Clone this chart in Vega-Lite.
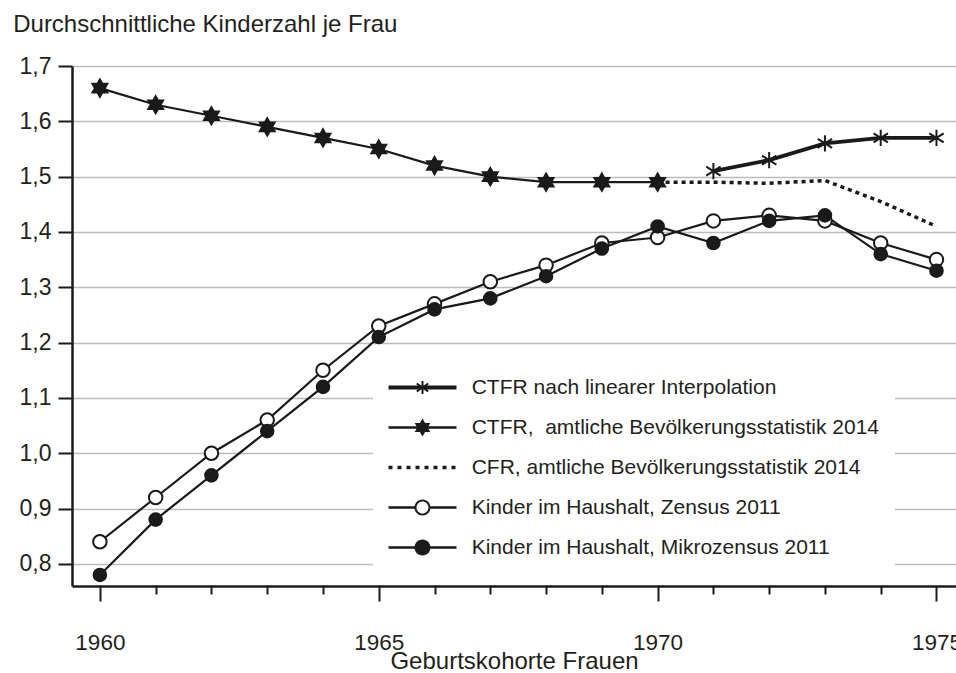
{
  "$schema": "https://vega.github.io/schema/vega-lite/v6.json",
  "width": 884,
  "height": 520,
  "autosize": {"type": "none"},
  "padding": {"left": 72, "top": 66, "right": 0, "bottom": 87},
  "background": "white",
  "config": {"view": {"stroke": null}, "font": "Liberation Sans"},
  "data": {"values": [
    {"series": "CTFR,\u00a0 amtliche Bevölkerungsstatistik 2014", "year": 1960, "value": 1.66},
    {"series": "CTFR,\u00a0 amtliche Bevölkerungsstatistik 2014", "year": 1961, "value": 1.63},
    {"series": "CTFR,\u00a0 amtliche Bevölkerungsstatistik 2014", "year": 1962, "value": 1.61},
    {"series": "CTFR,\u00a0 amtliche Bevölkerungsstatistik 2014", "year": 1963, "value": 1.59},
    {"series": "CTFR,\u00a0 amtliche Bevölkerungsstatistik 2014", "year": 1964, "value": 1.57},
    {"series": "CTFR,\u00a0 amtliche Bevölkerungsstatistik 2014", "year": 1965, "value": 1.55},
    {"series": "CTFR,\u00a0 amtliche Bevölkerungsstatistik 2014", "year": 1966, "value": 1.52},
    {"series": "CTFR,\u00a0 amtliche Bevölkerungsstatistik 2014", "year": 1967, "value": 1.50},
    {"series": "CTFR,\u00a0 amtliche Bevölkerungsstatistik 2014", "year": 1968, "value": 1.49},
    {"series": "CTFR,\u00a0 amtliche Bevölkerungsstatistik 2014", "year": 1969, "value": 1.49},
    {"series": "CTFR,\u00a0 amtliche Bevölkerungsstatistik 2014", "year": 1970, "value": 1.49},
    {"series": "CTFR nach linearer Interpolation", "year": 1971, "value": 1.51},
    {"series": "CTFR nach linearer Interpolation", "year": 1972, "value": 1.53},
    {"series": "CTFR nach linearer Interpolation", "year": 1973, "value": 1.56},
    {"series": "CTFR nach linearer Interpolation", "year": 1974, "value": 1.57},
    {"series": "CTFR nach linearer Interpolation", "year": 1975, "value": 1.57},
    {"series": "CFR, amtliche Bevölkerungsstatistik 2014", "year": 1970, "value": 1.49},
    {"series": "CFR, amtliche Bevölkerungsstatistik 2014", "year": 1971, "value": 1.49},
    {"series": "CFR, amtliche Bevölkerungsstatistik 2014", "year": 1972, "value": 1.488},
    {"series": "CFR, amtliche Bevölkerungsstatistik 2014", "year": 1973, "value": 1.493},
    {"series": "CFR, amtliche Bevölkerungsstatistik 2014", "year": 1974, "value": 1.455},
    {"series": "CFR, amtliche Bevölkerungsstatistik 2014", "year": 1975, "value": 1.41},
    {"series": "Kinder im Haushalt, Zensus 2011", "year": 1960, "value": 0.84},
    {"series": "Kinder im Haushalt, Zensus 2011", "year": 1961, "value": 0.92},
    {"series": "Kinder im Haushalt, Zensus 2011", "year": 1962, "value": 1.00},
    {"series": "Kinder im Haushalt, Zensus 2011", "year": 1963, "value": 1.06},
    {"series": "Kinder im Haushalt, Zensus 2011", "year": 1964, "value": 1.15},
    {"series": "Kinder im Haushalt, Zensus 2011", "year": 1965, "value": 1.23},
    {"series": "Kinder im Haushalt, Zensus 2011", "year": 1966, "value": 1.27},
    {"series": "Kinder im Haushalt, Zensus 2011", "year": 1967, "value": 1.31},
    {"series": "Kinder im Haushalt, Zensus 2011", "year": 1968, "value": 1.34},
    {"series": "Kinder im Haushalt, Zensus 2011", "year": 1969, "value": 1.38},
    {"series": "Kinder im Haushalt, Zensus 2011", "year": 1970, "value": 1.39},
    {"series": "Kinder im Haushalt, Zensus 2011", "year": 1971, "value": 1.42},
    {"series": "Kinder im Haushalt, Zensus 2011", "year": 1972, "value": 1.43},
    {"series": "Kinder im Haushalt, Zensus 2011", "year": 1973, "value": 1.42},
    {"series": "Kinder im Haushalt, Zensus 2011", "year": 1974, "value": 1.38},
    {"series": "Kinder im Haushalt, Zensus 2011", "year": 1975, "value": 1.35},
    {"series": "Kinder im Haushalt, Mikrozensus 2011", "year": 1960, "value": 0.78},
    {"series": "Kinder im Haushalt, Mikrozensus 2011", "year": 1961, "value": 0.88},
    {"series": "Kinder im Haushalt, Mikrozensus 2011", "year": 1962, "value": 0.96},
    {"series": "Kinder im Haushalt, Mikrozensus 2011", "year": 1963, "value": 1.04},
    {"series": "Kinder im Haushalt, Mikrozensus 2011", "year": 1964, "value": 1.12},
    {"series": "Kinder im Haushalt, Mikrozensus 2011", "year": 1965, "value": 1.21},
    {"series": "Kinder im Haushalt, Mikrozensus 2011", "year": 1966, "value": 1.26},
    {"series": "Kinder im Haushalt, Mikrozensus 2011", "year": 1967, "value": 1.28},
    {"series": "Kinder im Haushalt, Mikrozensus 2011", "year": 1968, "value": 1.32},
    {"series": "Kinder im Haushalt, Mikrozensus 2011", "year": 1969, "value": 1.37},
    {"series": "Kinder im Haushalt, Mikrozensus 2011", "year": 1970, "value": 1.41},
    {"series": "Kinder im Haushalt, Mikrozensus 2011", "year": 1971, "value": 1.38},
    {"series": "Kinder im Haushalt, Mikrozensus 2011", "year": 1972, "value": 1.42},
    {"series": "Kinder im Haushalt, Mikrozensus 2011", "year": 1973, "value": 1.43},
    {"series": "Kinder im Haushalt, Mikrozensus 2011", "year": 1974, "value": 1.36},
    {"series": "Kinder im Haushalt, Mikrozensus 2011", "year": 1975, "value": 1.33}
  ]},
  "encoding": {
    "x": {
      "field": "year", "type": "quantitative",
      "scale": {"domain": [1959.5, 1975.35], "nice": false, "zero": false},
      "axis": {
        "values": [1960,1961,1962,1963,1964,1965,1966,1967,1968,1969,1970,1971,1972,1973,1974,1975],
        "title": "Geburtskohorte Frauen",
        "labelExpr": "datum.value % 5 === 0 ? '' + datum.value : ''",
        "grid": false,
        "domainColor": "#1a1a1a", "domainWidth": 2.5,
        "tickColor": "#1a1a1a", "tickWidth": 2,
        "tickSize": {"condition": {"test": "datum.value % 5 === 0", "value": 15}, "value": 8},
        "labelFontSize": 22.5, "labelColor": "#231f20", "labelPadding": 30,
        "labelFlush": false, "labelOverlap": false,
        "titleFontSize": 24, "titleFontWeight": "normal", "titleColor": "#231f20",
        "titleBaseline": "alphabetic", "titleY": 82
      }
    },
    "y": {
      "field": "value", "type": "quantitative",
      "scale": {"domain": [0.76, 1.7], "nice": false, "zero": false},
      "axis": {
        "values": [0.8, 0.9, 1.0, 1.1, 1.2, 1.3, 1.4, 1.5, 1.6, 1.7],
        "labelExpr": "replace(format(datum.value, '.1f'), '.', ',')",
        "title": "Durchschnittliche Kinderzahl je Frau",
        "titleAngle": 0, "titleAlign": "left", "titleBaseline": "alphabetic",
        "titleX": -59.3, "titleY": -34.3,
        "titleFontSize": 24, "titleFontWeight": "normal", "titleColor": "#231f20",
        "grid": true, "gridColor": "#bdbdbd", "gridWidth": 1.6,
        "domainColor": "#1a1a1a", "domainWidth": 2.5,
        "tickColor": "#1a1a1a", "tickWidth": 2, "tickSize": 14,
        "labelPadding": 7, "labelFontSize": 23, "labelColor": "#231f20"
      }
    }
  },
  "layer": [
    {
      "transform": [{"filter": {"field": "series", "oneOf": ["CTFR,\u00a0 amtliche Bevölkerungsstatistik 2014", "Kinder im Haushalt, Zensus 2011", "Kinder im Haushalt, Mikrozensus 2011"]}}],
      "mark": {"type": "line", "color": "#1a1a1a", "strokeWidth": 2.2},
      "encoding": {"detail": {"field": "series", "type": "nominal"}}
    },
    {
      "transform": [{"filter": {"field": "series", "equal": "CTFR nach linearer Interpolation"}}],
      "mark": {"type": "line", "color": "#1a1a1a", "strokeWidth": 3.8},
      "encoding": {}
    },
    {
      "transform": [{"filter": {"field": "series", "equal": "CFR, amtliche Bevölkerungsstatistik 2014"}}],
      "mark": {"type": "line", "color": "#1a1a1a", "strokeWidth": 3.5, "strokeDash": [4, 4], "strokeCap": "butt"},
      "encoding": {}
    },
    {
      "transform": [{"filter": {"field": "series", "oneOf": ["CTFR nach linearer Interpolation", "CTFR,\u00a0 amtliche Bevölkerungsstatistik 2014", "Kinder im Haushalt, Zensus 2011", "Kinder im Haushalt, Mikrozensus 2011"]}}],
      "mark": {"type": "point", "filled": true, "stroke": "#1a1a1a", "strokeWidth": 2, "size": 324, "opacity": 1},
      "encoding": {
        "shape": {
          "field": "series", "type": "nominal", "legend": null,
          "scale": {
            "domain": ["CTFR nach linearer Interpolation", "CTFR,\u00a0 amtliche Bevölkerungsstatistik 2014", "Kinder im Haushalt, Zensus 2011", "Kinder im Haushalt, Mikrozensus 2011"],
            "range": [
              "M0,-0.9V0.9M-0.8,-0.5L0.8,0.5M-0.8,0.5L0.8,-0.5",
              "M0,-0.95L0.274,-0.475L0.823,-0.475L0.548,0L0.823,0.475L0.274,0.475L0,0.95L-0.274,0.475L-0.823,0.475L-0.548,0L-0.823,-0.475L-0.274,-0.475Z",
              "M-0.75,0A0.75,0.75 0 1,1 0.75,0A0.75,0.75 0 1,1 -0.75,0Z",
              "M-0.7,0A0.7,0.7 0 1,1 0.7,0A0.7,0.7 0 1,1 -0.7,0Z"
            ]
          }
        },
        "fill": {
          "field": "series", "type": "nominal", "legend": null,
          "scale": {
            "domain": ["CTFR nach linearer Interpolation", "CTFR,\u00a0 amtliche Bevölkerungsstatistik 2014", "Kinder im Haushalt, Zensus 2011", "Kinder im Haushalt, Mikrozensus 2011"],
            "range": ["transparent", "#1a1a1a", "white", "#1a1a1a"]
          }
        }
      }
    },
    {
      "transform": [{"filter": "false"}],
      "mark": {"type": "point", "filled": true, "color": "#1a1a1a", "opacity": 1, "size": 400, "strokeWidth": 0},
      "encoding": {
        "shape": {
          "field": "series", "type": "nominal",
          "scale": {
            "domain": ["CTFR nach linearer Interpolation", "CTFR,\u00a0 amtliche Bevölkerungsstatistik 2014", "CFR, amtliche Bevölkerungsstatistik 2014", "Kinder im Haushalt, Zensus 2011", "Kinder im Haushalt, Mikrozensus 2011"],
            "range": [
              "M-3.4,-0.19H3.4V0.19H-3.4Z M-0.1,-0.65H0.1V0.65H-0.1Z M-0.63,-0.32L-0.516,-0.484L0.63,0.32L0.516,0.484Z M0.516,-0.484L0.63,-0.32L-0.516,0.484L-0.63,0.32Z",
              "M-3.4,-0.12H3.4V0.12H-3.4Z M0,-0.9L0.26,-0.45L0.779,-0.45L0.52,0L0.779,0.45L0.26,0.45L0,0.9L-0.26,0.45L-0.779,0.45L-0.52,0L-0.779,-0.45L-0.26,-0.45Z",
              "M-3.4,-0.18h0.4v0.36h-0.4Z M-2.5,-0.18h0.4v0.36h-0.4Z M-1.6,-0.18h0.4v0.36h-0.4Z M-0.7,-0.18h0.4v0.36h-0.4Z M0.2,-0.18h0.4v0.36h-0.4Z M1.1,-0.18h0.4v0.36h-0.4Z M2.0,-0.18h0.4v0.36h-0.4Z M2.9,-0.18h0.4v0.36h-0.4Z",
              "M-3.4,-0.12H-0.7V0.12H-3.4Z M0.7,-0.12H3.4V0.12H0.7Z M-0.8,0A0.8,0.8 0 1,1 0.8,0A0.8,0.8 0 1,1 -0.8,0Z M-0.6,0A0.6,0.6 0 1,0 0.6,0A0.6,0.6 0 1,0 -0.6,0Z",
              "M-3.4,-0.12H3.4V0.12H-3.4Z M-0.8,0A0.8,0.8 0 1,1 0.8,0A0.8,0.8 0 1,1 -0.8,0Z"
            ]
          },
          "legend": {
            "title": null, "orient": "none", "legendX": 301, "legendY": 296,
            "fillColor": "white", "padding": 15,
            "symbolOffset": 24, "labelOffset": 38.7,
            "labelFontSize": 21, "labelFont": "Liberation Sans", "labelColor": "#231f20", "labelLimit": 700,
            "rowPadding": 18, "symbolSize": 400, "symbolStrokeWidth": 0,
            "symbolFillColor": "#1a1a1a", "symbolOpacity": 1
          }
        }
      }
    }
  ],
  "resolve": {"scale": {"shape": "independent", "fill": "independent"}}
}
